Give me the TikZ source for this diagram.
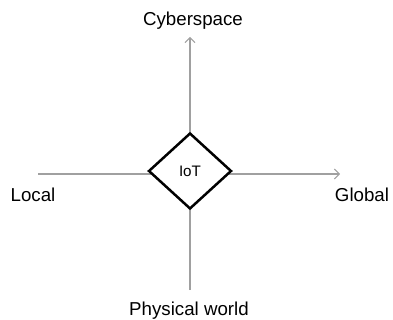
\documentclass[tikz,border=0pt]{standalone}
\usepackage{fontspec}
\setmainfont{Liberation Sans}
\usetikzlibrary{shapes.geometric,arrows.meta}
\definecolor{axisGray}{RGB}{160, 160, 160}

\begin{document}
\begin{tikzpicture}[x=1pt, y=-1pt,
    axislabel/.style={font=\fontsize{18.7}{20}\selectfont, text=black, inner sep=0pt},
    axisline/.style={draw=axisGray, line width=1.2pt, -{Straight Barb[length=5pt, width=10pt, line width=1pt]}}]
                \useasboundingbox (0,0) rectangle (393,320);
                \coordinate (west) at (38,174);
                \coordinate (east) at (340,174);
                \coordinate (south) at (190,290);
                \coordinate (north) at (190,37);
                \draw[axisline] (west) -- (east);
                \draw[axisline] (south) -- (north);
                \node[draw, diamond, fill=white, line width=2.5pt, minimum width=83pt, minimum height=76pt, inner sep=0pt, font=\fontsize{15.2}{17}\selectfont] (iot) at (190,171) {IoT};
                \node[axislabel] (cyber) at (193,21) {Cyberspace};
                \node[axislabel] (physical) at (189,311) {Physical world};
                \node[axislabel] (local) at (33,195) {Local};
                \node[axislabel] (global) at (362,195) {Global};
            \end{tikzpicture}
\end{document}
